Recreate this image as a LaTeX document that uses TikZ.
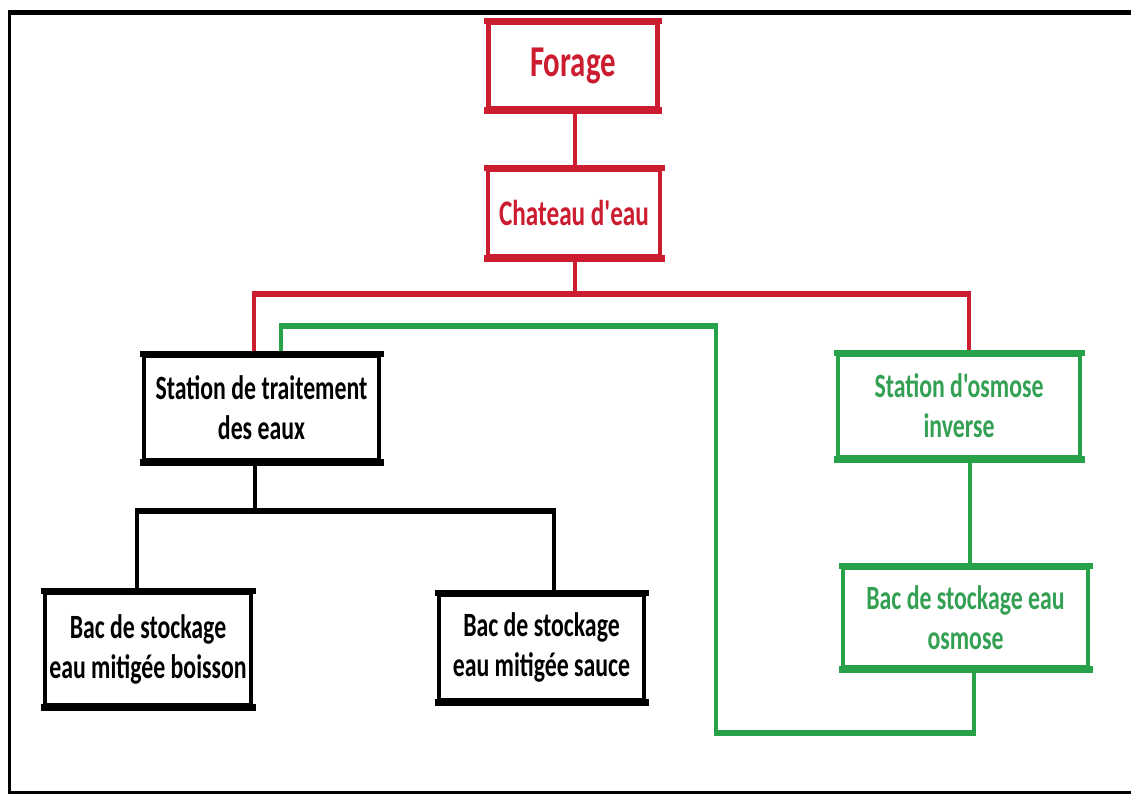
\documentclass[tikz,border=0pt]{standalone}
\usepackage{fontspec}
\newfontfamily\boxfont{Carlito}[FakeStretch=0.70]
\definecolor{flowred}{RGB}{204,28,48}
\definecolor{flowgreen}{RGB}{40,162,72}
\definecolor{textgreen}{RGB}{52,160,84}
\pgfdeclarelayer{background}
\pgfsetlayers{background,main}

\begin{document}
\begin{tikzpicture}[x=1pt,y=-1pt,
  box/.style={draw=#1, line width=4.5pt, inner sep=0pt, align=center,
    font=\boxfont\bfseries\fontsize{34}{40}\selectfont},
  vw/.style={line width=4.5pt},
  hw/.style={line width=6.5pt, shorten <=-2.25pt, shorten >=-2.25pt}]

% page size
\useasboundingbox (0,0) rectangle (1131,795);

% boxes
\node[box=flowred, text=flowred, minimum width=169pt, minimum height=85pt,
  font=\boxfont\bfseries\fontsize{44}{52}\selectfont] (forage) at (573,65.5)
  {\raisebox{2pt}{Forage}};
\node[box=flowred, text=flowred, minimum width=172pt, minimum height=86pt,
  font=\boxfont\bfseries\fontsize{36}{42}\selectfont] (chateau) at (574,213) {Chateau d'eau};
\node[box=black, minimum width=235pt, minimum height=104pt] (trait) at (261.5,408)
  {\raisebox{-7pt}{Station de traitement}\\\raisebox{-7pt}{des eaux}};
\node[box=flowgreen, text=textgreen, minimum width=242pt, minimum height=102pt] (osm) at (959,406)
  {Station d'osmose\\inverse};
\node[box=black, minimum width=206pt, minimum height=112pt] (boisson) at (148,649)
  {Bac de stockage\\eau mitigée boisson};
\node[box=black, minimum width=205pt, minimum height=105pt] (sauce) at (541.5,647.5)
  {Bac de stockage\\eau mitigée sauce};
\node[box=flowgreen, text=textgreen, minimum width=245pt, minimum height=99pt] (bacosm) at (965.5,617.5)
  {Bac de stockage eau\\osmose};

% heavier top and bottom edges of the boxes
\foreach \n/\c in {forage/flowred, chateau/flowred, trait/black, osm/flowgreen,
                   boisson/black, sauce/black, bacosm/flowgreen} {
  \draw[draw=\c, line width=6.5pt] ([xshift=-2.25pt]\n.north west) -- ([xshift=2.25pt]\n.north east);
  \draw[draw=\c, line width=6.5pt] ([xshift=-2.25pt]\n.south west) -- ([xshift=2.25pt]\n.south east);
}

% junction points of the pipe runs
\coordinate (feed) at (575,0);
\coordinate (redL) at (254,294);
\coordinate (redR) at (969,294);
\coordinate (gA) at (281,326);
\coordinate (gB) at (716,326);
\coordinate (gC) at (716,733);
\coordinate (gD) at (974,733);
\coordinate (gE) at (970,0);
\coordinate (kM) at (255,511);
\coordinate (kL) at (137,511);
\coordinate (kR) at (554,511);

\begin{pgfonlayer}{background}
  % white page and outer frame
  \fill[white] (0,0) rectangle (1131,795);
  \draw[line width=5pt] (8,12) -- (1131,12);
  \draw[line width=3.5pt] (9.5,10) -- (9.5,793);
  \draw[line width=3pt] (8,792.5) -- (1131,792.5);
  % red supply lines
  \draw[vw, flowred] (feed |- forage.south) -- (feed |- chateau.north);
  \draw[vw, flowred] (feed |- chateau.south) -- (feed |- redL);
  \draw[hw, flowred] (redL) -- (redR);
  \draw[vw, flowred] (redL) -- (redL |- trait.north);
  \draw[vw, flowred] (redR) -- (redR |- osm.north);
  % green osmosis loop
  \draw[vw, flowgreen] (gE |- osm.south) -- (gE |- bacosm.north);
  \draw[vw, flowgreen] (gA |- trait.north) -- (gA);
  \draw[hw, flowgreen] (gA) -- (gB);
  \draw[vw, flowgreen] (gB) -- (gC);
  \draw[hw, flowgreen] (gC) -- (gD);
  \draw[vw, flowgreen] (gD) -- (gD |- bacosm.south);
  % black treated-water branch
  \draw[vw] (kM |- trait.south) -- (kM);
  \draw[hw] (kL) -- (kR);
  \draw[vw] (kL) -- (kL |- boisson.north);
  \draw[vw] (kR) -- (kR |- sauce.north);
\end{pgfonlayer}
\end{tikzpicture}
\end{document}
